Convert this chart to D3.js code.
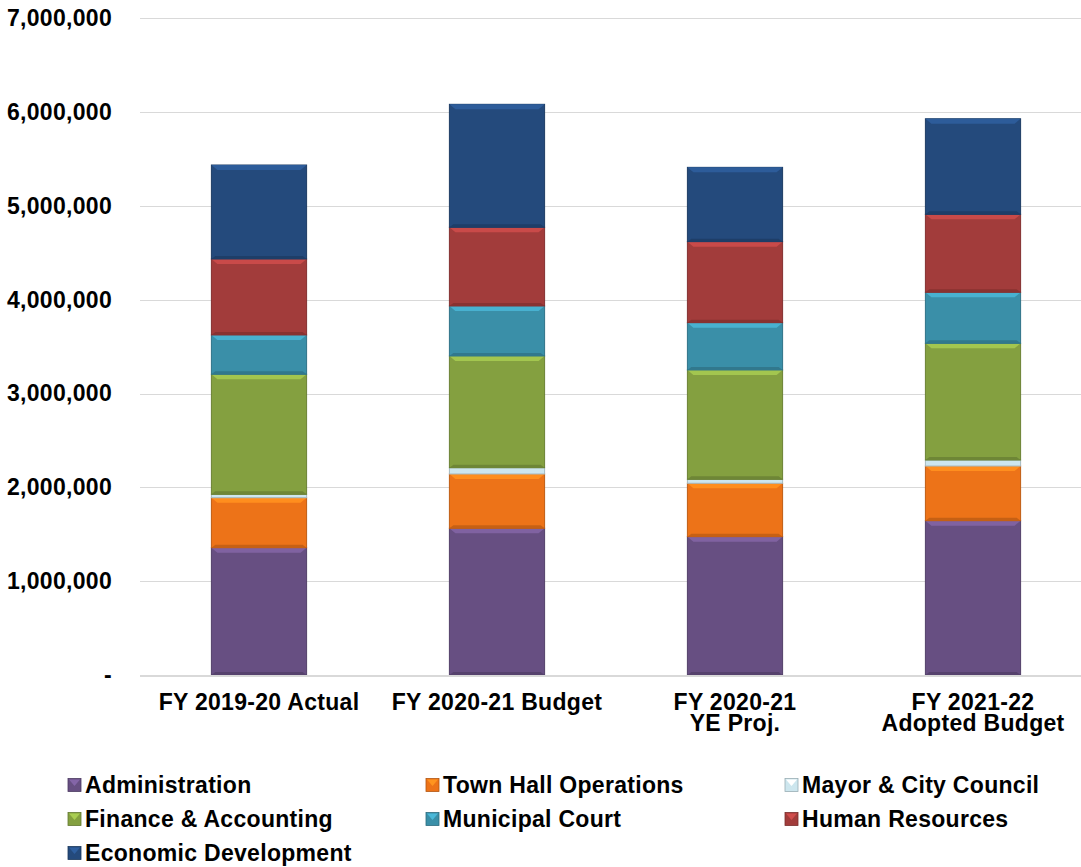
<!DOCTYPE html>
<html>
<head>
<meta charset="utf-8">
<script src="https://cdn.jsdelivr.net/npm/d3@7"></script>
<style>
  body { margin: 0; background: #fff; }
  svg { display: block; font-family: "Liberation Sans", Arial, sans-serif; font-weight: bold; }
  text { letter-spacing: 0.3px; }
</style>
</head>
<body>
<div class="chart"></div>
<script>
// data
const categories = [['FY 2019-20 Actual'], ['FY 2020-21 Budget'], ['FY 2020-21', 'YE Proj.'], ['FY 2021-22', 'Adopted Budget']];
const seriesNames = ['Administration', 'Town Hall Operations', 'Mayor & City Council', 'Finance & Accounting', 'Municipal Court', 'Human Resources', 'Economic Development'];
const administration = [1357000, 1564000, 1475000, 1645000];
const townHall = [533000, 579000, 569000, 583000];
const mayorCouncil = [36000, 67000, 42000, 64000];
const finance = [1280000, 1191000, 1166000, 1244000];
const court = [419000, 533000, 504000, 544000];
const humanRes = [810000, 839000, 864000, 831000];
const econDev = [1002000, 1311000, 792000, 1019000];
const yTicks = [0, 1000000, 2000000, 3000000, 4000000, 5000000, 6000000, 7000000];

const colors = ['#674f82', '#ed7318', '#cde6ee', '#84a040', '#3a8fa8', '#a23c3b', '#244a7c'];

const seriesValues = [administration, townHall, mayorCouncil, finance, court, humanRes, econDev];
const table = categories.map((c, i) => {
  const row = { key: c.join(' ') };
  seriesNames.forEach((s, j) => row[s] = seriesValues[j][i]);
  return row;
});

const W = 1081, H = 867;
const fontSize = 23;
const svg = d3.select('.chart').append('svg')
  .attr('width', W)
  .attr('height', H);

const x = d3.scaleBand()
  .domain(table.map(d => d.key))
  .range([140, 1092])
  .paddingInner(0.6)
  .paddingOuter(0.3);

const y = d3.scaleLinear()
  .domain([0, 7000000])
  .range([675, 18.4]);

const color = d3.scaleOrdinal().domain(seriesNames).range(colors);

//gridlines
svg.append('g')
  .selectAll('line')
  .data(yTicks.filter(t => t > 0))
  .enter()
  .append('line')
  .attr('x1', 140).attr('x2', W)
  .attr('y1', d => Math.round(y(d)) + 0.5)
  .attr('y2', d => Math.round(y(d)) + 0.5)
  .attr('stroke', '#d9d9d9')
  .attr('stroke-width', 1);

//y axis labels
const yAxis = d3.axisLeft(y)
  .tickValues(yTicks)
  .tickSize(0)
  .tickPadding(0)
  .tickFormat(d => d === 0 ? '-' : d3.format(',')(d));
const yg = svg.append('g')
  .attr('transform', 'translate(112,0)')
  .call(yAxis);
yg.select('.domain').remove();
yg.selectAll('text')
  .attr('font-size', fontSize)
  .attr('font-family', '"Liberation Sans", Arial, sans-serif')
  .attr('font-weight', 'bold')
  .attr('fill', '#000');

//stacked bars
const stack = d3.stack().keys(seriesNames)(table);

const layers = svg.append('g')
  .selectAll('g')
  .data(stack)
  .enter()
  .append('g')
  .attr('fill', d => color(d.key));

const segs = layers.selectAll('g')
  .data(d => d.map(p => ({ p, key: d.key })))
  .enter()
  .append('g');

segs.append('rect')
  .attr('x', d => x(d.p.data.key))
  .attr('y', d => y(d.p[1]))
  .attr('width', x.bandwidth())
  .attr('height', d => y(d.p[0]) - y(d.p[1]))
  .attr('fill', d => color(d.key))
  .attr('stroke', d => d3.color(color(d.key)).darker(0.6))
  .attr('stroke-width', 1);

// bevel: light top edge, darker bottom edge
segs.filter(d => y(d.p[0]) - y(d.p[1]) > 10)
  .append('path')
  .attr('d', d => {
    const x0 = x(d.p.data.key), x1 = x0 + x.bandwidth(), t = y(d.p[1]);
    return `M${x0},${t}L${x1},${t}L${x1 - 6},${t + 5}L${x0 + 6},${t + 5}Z`;
  })
  .attr('fill', d => d3.color(color(d.key)).brighter(0.6));

segs.filter(d => y(d.p[0]) - y(d.p[1]) > 10)
  .append('path')
  .attr('d', d => {
    const x0 = x(d.p.data.key), x1 = x0 + x.bandwidth(), b = y(d.p[0]);
    return `M${x0},${b}L${x1},${b}L${x1 - 4},${b - 3}L${x0 + 4},${b - 3}Z`;
  })
  .attr('fill', d => d3.color(color(d.key)).darker(0.5));

//baseline
svg.append('line')
  .attr('x1', 140).attr('x2', W)
  .attr('y1', y(0) + 1).attr('y2', y(0) + 1)
  .attr('stroke', '#d9d9d9')
  .attr('stroke-width', 2);

//x labels
const xl = svg.append('g')
  .selectAll('text')
  .data(categories)
  .enter()
  .append('text')
  .attr('x', d => x(d.join(' ')) + x.bandwidth() / 2)
  .attr('y', 710)
  .attr('text-anchor', 'middle')
  .attr('font-size', fontSize)
  .attr('fill', '#000');
xl.selectAll('tspan')
  .data(d => d)
  .enter()
  .append('tspan')
  .attr('x', function () { return d3.select(this.parentNode).attr('x'); })
  .attr('dy', (d, i) => i === 0 ? 0 : 21)
  .text(d => d);

//legend
const legX = [68, 426, 785];
const legY = [785, 819, 853];
const legend = svg.append('g')
  .selectAll('g')
  .data(seriesNames)
  .enter()
  .append('g')
  .attr('transform', (d, i) => `translate(${legX[i % 3]},${legY[Math.floor(i / 3)]})`);

legend.append('rect')
  .attr('x', 0).attr('y', -6.5)
  .attr('width', 13).attr('height', 13)
  .attr('fill', d => color(d))
  .attr('stroke', d => d3.color(color(d)).darker(0.8))
  .attr('stroke-width', 0.8);
legend.append('path')
  .attr('d', 'M1,-5.5L12,-5.5L6.5,1Z')
  .attr('fill', d => d3.color(color(d)).brighter(0.7));

legend.append('text')
  .attr('x', 17)
  .attr('y', 8)
  .attr('font-size', fontSize)
  .attr('fill', '#000')
  .text(d => d);
</script>
</body>
</html>
